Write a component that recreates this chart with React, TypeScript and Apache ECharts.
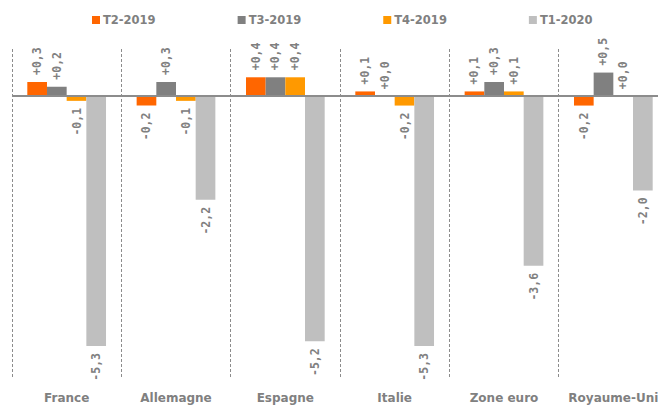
import React, { useEffect, useRef } from "react";
import * as echarts from "echarts";

const categories = ["France", "Allemagne", "Espagne", "Italie", "Zone euro", "Royaume-Uni"];
const seriesNames = ["T2-2019", "T3-2019", "T4-2019", "T1-2020"];
const t2_2019 = [0.3, -0.2, 0.4, 0.1, 0.1, -0.2];
const t3_2019 = [0.2, 0.3, 0.4, 0.0, 0.3, 0.5];
const t4_2019 = [-0.1, -0.1, 0.4, -0.2, 0.1, 0.0];
const t1_2020 = [-5.3, -2.2, -5.2, -5.3, -3.6, -2.0];
const colors = ["#FF6600", "#808080", "#FF9900", "#BFBFBF"];

const TEXT_GREY = "#808080";

function fmt(v: number) {
  const s = Math.abs(v).toFixed(1).replace(".", ",");
  return (v < 0 ? "-" : "+") + s;
}

export default function App() {
  const ref = useRef<HTMLDivElement>(null);
  useEffect(() => {
    if (!ref.current) return;
    const chart = echarts.init(ref.current, null, { renderer: "svg" });
    const all = [t2_2019, t3_2019, t4_2019, t1_2020];
    const series = all.map((vals, si) => ({
      name: seriesNames[si],
      type: "bar" as const,
      barGap: "0%",
      barCategoryGap: "28%",
      itemStyle: { color: colors[si] },
      data: vals.map((v) => ({
        value: v,
        label: {
          show: true,
          position: v < 0 ? "bottom" : "top",
          rotate: 90,
          align: v < 0 ? "right" : "left",
          verticalAlign: "middle",
          distance: 7,
          formatter: () => fmt(v),
          color: TEXT_GREY,
          fontFamily: "DejaVu Sans Mono",
          fontWeight: "bold",
          fontSize: 11.5,
        },
      })),
      markLine:
        si === 0
          ? {
              silent: true,
              symbol: "none",
              label: { show: false },
              lineStyle: { color: "#8c8c8c", type: "solid", width: 2 },
              data: [{ yAxis: 0 }],
            }
          : undefined,
    }));
    chart.setOption({
      animation: false,
      legend: {
        left: 92,
        top: 14,
        padding: 0,
        itemWidth: 8,
        itemHeight: 8,
        itemGap: 82,
        icon: "rect",
        textStyle: {
          color: TEXT_GREY,
          fontFamily: "DejaVu Sans",
          fontWeight: "bold",
          fontSize: 11.5,
          padding: [0, 0, 0, -2],
        },
        data: seriesNames,
      },
      grid: { left: 12, top: 49, width: 656, height: 330, outerBoundsMode: "none" },
      xAxis: {
        type: "category",
        data: categories,
        axisLine: { show: false },
        axisTick: { show: false },
        axisLabel: {
          interval: 0,
          margin: 13,
          color: TEXT_GREY,
          fontFamily: "DejaVu Sans",
          fontWeight: "bold",
          fontSize: 12,
        },
        splitLine: {
          show: true,
          interval: 0,
          lineStyle: { color: "#8c8c8c", type: [3, 2], width: 1 },
        },
      },
      yAxis: {
        type: "value",
        min: -6,
        max: 1,
        show: false,
        splitLine: { show: false },
      },
      series,
    });
    return () => chart.dispose();
  }, []);
  return (
    <div
      ref={ref}
      style={{ position: "absolute", left: 0, top: 0, width: 658, height: 405, background: "#fff" }}
    />
  );
}
